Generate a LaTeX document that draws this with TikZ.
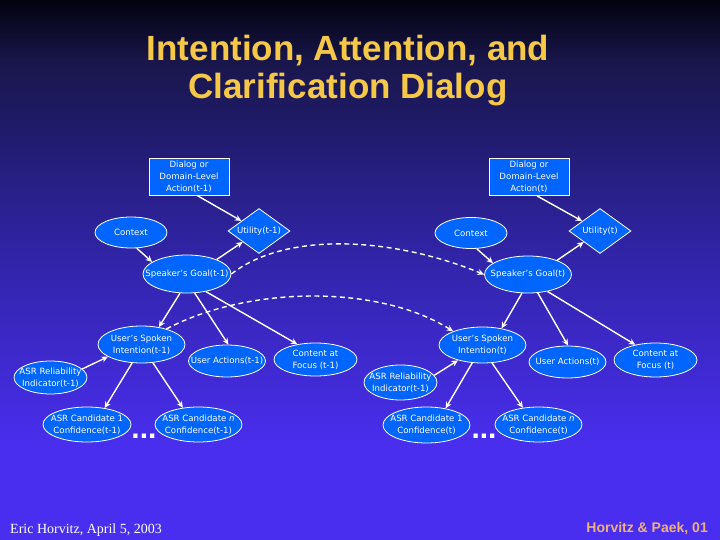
\documentclass[tikz,border=0pt]{standalone}
\usepackage{fontspec}
\setmainfont{DejaVu Sans}
\newfontfamily\titlefont{Liberation Sans}
\newfontfamily\serifft{Liberation Serif}
\usetikzlibrary{shapes.geometric,arrows.meta}
\definecolor{nodeblue}{RGB}{0,102,255}
\definecolor{bgA}{RGB}{2,2,14}
\definecolor{bgB}{RGB}{24,22,74}
\definecolor{bgC}{RGB}{48,36,165}
\definecolor{bgD}{RGB}{74,46,240}
\definecolor{titlegold}{RGB}{246,200,72}
\definecolor{peach}{RGB}{240,176,126}
\newcommand\ndfont{\fontsize{8.6}{12}\selectfont}
\begin{document}
\begin{tikzpicture}[x=1pt,y=-1pt,
  box/.style={draw=white, line width=0.8pt, fill=nodeblue, minimum width=80pt, minimum height=37pt, inner sep=0pt, align=center, font=\ndfont, text=white},
  ell/.style={ellipse, draw=white, line width=0.8pt, fill=nodeblue, inner sep=0pt},
  dia/.style={diamond, draw=white, line width=0.8pt, fill=nodeblue, inner sep=0pt, minimum width=62pt, minimum height=45pt},
  txt/.style={text=white, font=\ndfont, align=center, inner sep=0pt},
  arr/.style={draw=white, line width=1.4pt, -{Stealth[length=6.5pt,width=6pt]}},
  darr/.style={arr, dash pattern=on 5pt off 3.5pt},
  dotsty/.style={font=\titlefont\bfseries\fontsize{30}{30}\selectfont, text=white, anchor=base, inner sep=0pt}]
\useasboundingbox (0,0) rectangle (720,540);
% background
\shade[top color=bgA, bottom color=bgB] (0,0) rectangle (720,61);
\shade[top color=bgB, bottom color=bgC] (0,60) rectangle (720,251);
\shade[top color=bgC, bottom color=bgD] (0,250) rectangle (720,451);
\fill[bgD] (0,450) rectangle (720,540);
% title
\node[font=\titlefont\bfseries\fontsize{35}{38}\selectfont, text=titlegold, anchor=base, inner sep=0pt] (t1) at (348,61) {Intention, Attention, and};
\node[font=\titlefont\bfseries\fontsize{35}{38}\selectfont, text=titlegold, anchor=base, inner sep=0pt] (t2) at (348,99) {Clarification Dialog};
% time slice t-1
\node[box] (dl1) at (189,176.5) {Dialog or\\Domain-Level\\Action(t-1)};
\node[ell, minimum width=72pt, minimum height=31pt, label={[txt]center:Context}] (c1) at (131,232.5) {};
\node[dia, label={[txt]center:Utility(t-1)}] (u1) at (259,231) {};
\node[ell, minimum width=88pt, minimum height=38pt, label={[txt]center:{Speaker's Goal(t-1)}}] (sg1) at (187,274) {};
\node[ell, minimum width=87pt, minimum height=37pt, label={[txt]center:{User's Spoken\\Intention(t-1)}}] (usi1) at (141.5,344.5) {};
\node[ell, minimum width=77pt, minimum height=32pt, label={[txt]center:{User Actions(t-1)}}] (ua1) at (227,361) {};
\node[ell, minimum width=83pt, minimum height=33pt, label={[txt]center:{Content at\\Focus (t-1)}}] (cf1) at (315.5,359.5) {};
\node[ell, minimum width=73pt, minimum height=33pt, label={[txt]center:{ASR Reliability\\Indicator(t-1)}}] (ar1) at (50.5,377.5) {};
\node[ell, minimum width=88pt, minimum height=35pt, label={[txt]center:{ASR Candidate 1\\Confidence(t-1)}}] (ac11) at (87,424.5) {};
\node[ell, minimum width=87pt, minimum height=35pt, label={[txt]center:{ASR Candidate \textit{n}\\Confidence(t-1)}}] (acn1) at (198.5,424.5) {};
\node[dotsty] (dots1) at (144,438.5) {...};
% time slice t
\node[box] (dl2) at (529,177) {Dialog or\\Domain-Level\\Action(t)};
\node[ell, minimum width=72pt, minimum height=31pt, label={[txt]center:Context}] (c2) at (471,233) {};
\node[dia, label={[txt]center:Utility(t)}] (u2) at (600,231) {};
\node[ell, minimum width=87pt, minimum height=37pt, label={[txt]center:{Speaker's Goal(t)}}] (sg2) at (528,274.5) {};
\node[ell, minimum width=87pt, minimum height=36pt, label={[txt]center:{User's Spoken\\Intention(t)}}] (usi2) at (482.5,345) {};
\node[ell, minimum width=77pt, minimum height=32pt, label={[txt]center:{User Actions(t)}}] (ua2) at (567.5,362) {};
\node[ell, minimum width=83pt, minimum height=34pt, label={[txt]center:{Content at\\Focus (t)}}] (cf2) at (655.5,360) {};
\node[ell, minimum width=73pt, minimum height=35pt, label={[txt]center:{ASR Reliability\\Indicator(t-1)}}] (ar2) at (400.5,382.5) {};
\node[ell, minimum width=87pt, minimum height=36pt, label={[txt]center:{ASR Candidate 1\\Confidence(t)}}] (ac12) at (426.5,425) {};
\node[ell, minimum width=87pt, minimum height=35pt, label={[txt]center:{ASR Candidate \textit{n}\\Confidence(t)}}] (acn2) at (538.5,424.5) {};
\node[dotsty] (dots2) at (484,438.5) {...};
% arrows t-1
\draw[arr] ([xshift=8pt]dl1.south) -- (u1);
\draw[arr] (c1.-70) -- (sg1.161);
\draw[arr] (sg1.26) -- (u1);
\draw[arr] (sg1.-110) -- (usi1.45);
\draw[arr] (sg1.-68) -- (ua1.85);
\draw[arr] (sg1.-43) -- (cf1.140);
\draw[arr] (ar1.15) -- (usi1.200);
\draw[arr] (usi1.-117) -- (ac11.43);
\draw[arr] (usi1.-58) -- (acn1.133);
% arrows t
\draw[arr] ([xshift=8pt]dl2.south) -- (u2);
\draw[arr] (c2.-70) -- (sg2.162);
\draw[arr] (sg2.26) -- (u2);
\draw[arr] (sg2.-108) -- (usi2.41);
\draw[arr] (sg2.-62) -- (ua2.88);
\draw[arr] (sg2.-41) -- (cf2.143);
\draw[arr] (ar2.12) -- (usi2.212);
\draw[arr] (usi2.-120) -- (ac12.41);
\draw[arr] (usi2.-62) -- (acn2.133);
% temporal dashed arrows
\draw[darr] (sg1.east) .. controls (285,232) and (390,236) .. (sg2.west);
\draw[darr] (usi1.32) .. controls (250,285) and (380,285) .. (usi2.155);
% footer
\node[font=\serifft\fontsize{14}{16}\selectfont, text=white, anchor=base west, inner sep=0pt] (auth) at (10,533) {Eric Horvitz, April 5, 2003};
\node[font=\titlefont\bfseries\fontsize{14}{16}\selectfont, text=peach, anchor=base east, inner sep=0pt] (cite) at (708,532) {Horvitz \& Paek, 01};
\end{tikzpicture}
\end{document}
